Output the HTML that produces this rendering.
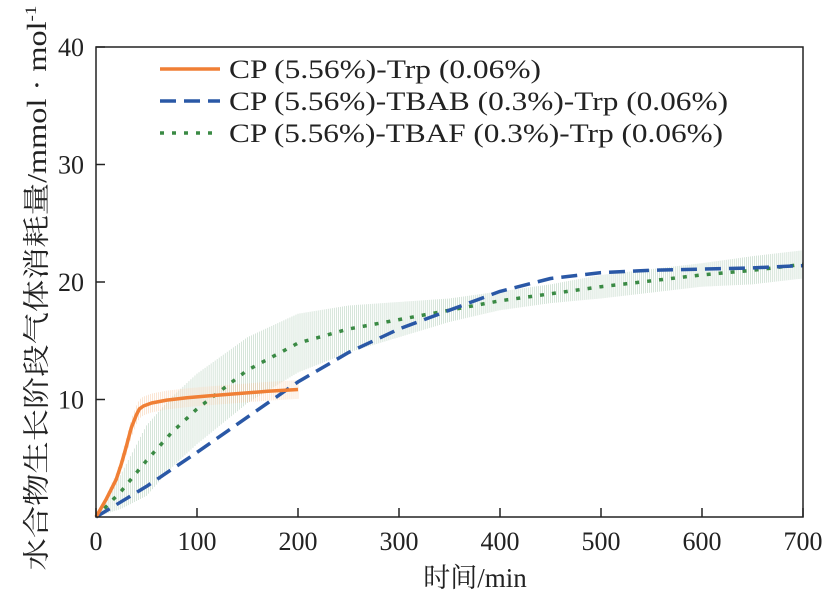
<!DOCTYPE html>
<html><head><meta charset="utf-8"><style>
body{margin:0;background:#fff}
svg text{font-family:"Liberation Serif","Noto Serif CJK SC",serif;fill:#222}
</style></head><body>
<svg id="c" width="826" height="595"></svg>
<script>
const orangeT=[0,10,20,25,30,35,40,43,47,55,70,90,110,140,170,200];
const orangeY=[0,1.5,3.2,4.5,6,7.6,8.7,9.2,9.45,9.7,9.95,10.15,10.3,10.5,10.7,10.85];
const orangeErr=[0,0.3,0.5,0.6,0.7,0.8,0.8,0.8,0.8,0.8,0.8,0.8,0.8,0.8,0.8,0.8];
const blueT=[0,50,100,150,200,250,300,350,400,450,500,550,600,650,700];
const blueY=[0,2.6,5.5,8.5,11.5,14,16,17.6,19.2,20.3,20.8,21,21.1,21.2,21.4];
const greenT=[0,25,50,75,100,150,200,250,300,350,400,450,500,550,600,650,700];
const greenY=[0,2.2,4.8,7.2,9.2,12.5,14.8,16,16.8,17.6,18.4,19,19.6,20.1,20.6,21,21.5];
const greenErr=[0,1.5,3,3,3,2.8,2.5,2,1.5,1,0.8,0.8,1,1,1,1.2,1.2];
const xTicks=[0,100,200,300,400,500,600,700];
const yTicks=[10,20,30,40];
const legendLabels=["CP (5.56%)-Trp (0.06%)","CP (5.56%)-TBAB (0.3%)-Trp (0.06%)","CP (5.56%)-TBAF (0.3%)-Trp (0.06%)"];
const legendW=[312,499,494];
const NS="http://www.w3.org/2000/svg",svg=document.getElementById('c');
const X=v=>96+v*(803-96)/700, Y=v=>517-v*(517-47)/40;
function mk(t,a,p){const e=document.createElementNS(NS,t);for(const k in a)e.setAttribute(k,a[k]);(p||svg).appendChild(e);return e;}
function interp(T,V,t){for(let i=1;i<T.length;i++){if(t<=T[i]){const f=(t-T[i-1])/(T[i]-T[i-1]);return V[i-1]+f*(V[i]-V[i-1]);}}return V[V.length-1];}
function band(T,V,E,col,nm){const g=mk('g',{stroke:col,'stroke-width':0.8,opacity:0.45});

for(let t=T[0];t<=T[T.length-1];t+=2){const v=interp(T,V,t),e=interp(T,E,t);mk('line',{x1:X(t),x2:X(t),y1:Y(v-e),y2:Y(v+e)},g);}}
band(greenT,greenY,greenErr,'#8fb89a','green-error-band');
band(orangeT,orangeY,orangeErr,'#f4b98a','orange-error-band');
function line(T,V,col,dash,w,nm){const d=T.map((t,i)=>(i?'L':'M')+X(t).toFixed(1)+','+Y(V[i]).toFixed(1)).join('');
const p=mk('path',{d:d,fill:'none',stroke:col,'stroke-width':w,'stroke-dasharray':dash,'stroke-linejoin':'round'});
}
line(greenT,greenY,'#3a8a44','4 8',3.5,'series-tbaf');
line(blueT,blueY,'#2a58a6','16 8',3.5,'series-tbab');
line(orangeT,orangeY,'#f07f35','',3.5,'series-cp-trp');
const fr=mk('rect',{x:96,y:47,width:707,height:470,fill:'none',stroke:'#222','stroke-width':1.5});

xTicks.forEach(v=>{mk('line',{x1:X(v),x2:X(v),y1:517,y2:508,stroke:'#222','stroke-width':1.5});
const t=mk('text',{x:X(v),y:550,'font-size':26,'text-anchor':'middle'});t.textContent=v;
});
yTicks.forEach(v=>{mk('line',{x1:96,x2:105,y1:Y(v),y2:Y(v),stroke:'#222','stroke-width':1.5});
const t=mk('text',{x:84,y:Y(v)+9,'font-size':26,'text-anchor':'end'});t.textContent=v;
});
const xl=mk('text',{x:475,y:587,'font-size':27,'text-anchor':'middle'});xl.textContent='时间/min';

const yl=mk('text',{x:0,y:0,'font-size':27,'text-anchor':'middle',textLength:565,lengthAdjust:'spacingAndGlyphs',transform:'translate(46,288) rotate(-90)'});
yl.innerHTML='水合物生长阶段气体消耗量/mmol · mol<tspan dy="-10" font-size="16">-1</tspan>';

const lc=['#f07f35','#2a58a6','#3a8a44'],ld=['','16 8','4 8'];
legendLabels.forEach((s,i)=>{const y=69+i*32;
const l=mk('line',{x1:160,x2:220,y1:y,y2:y,stroke:lc[i],'stroke-width':3.5,'stroke-dasharray':ld[i]});

const t=mk('text',{x:229,y:y+9,'font-size':26,textLength:legendW[i],lengthAdjust:'spacingAndGlyphs'});t.textContent=s;
});
</script>
</body></html>
